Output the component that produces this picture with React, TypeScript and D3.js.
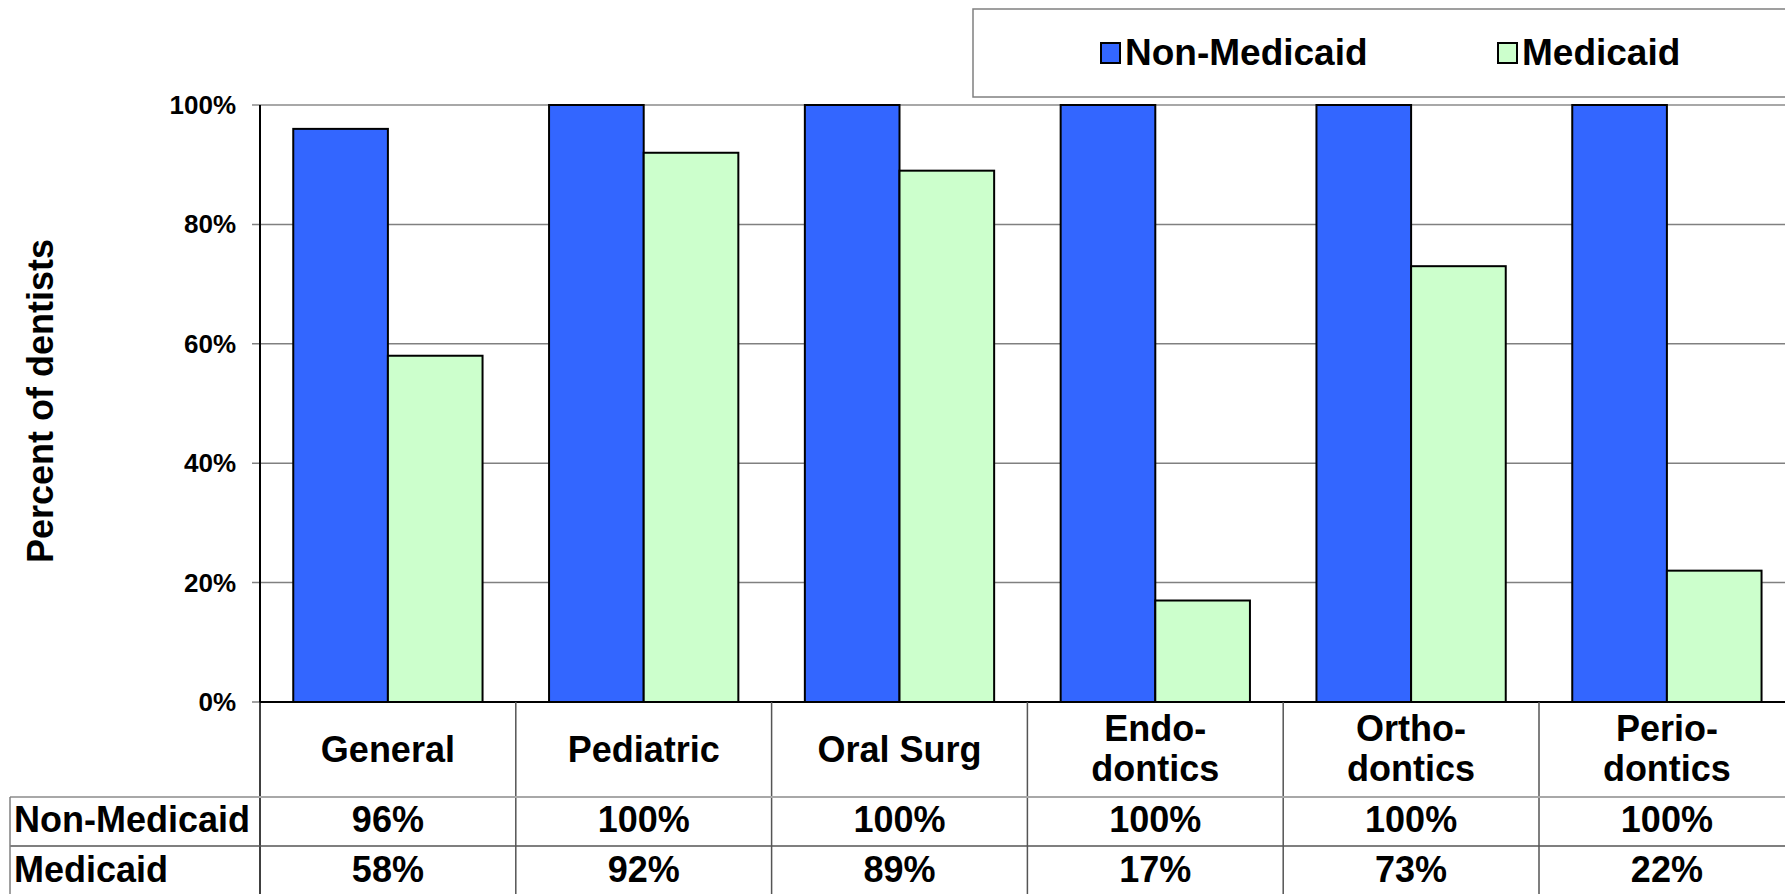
import React from "react";
import * as d3 from "d3";

const categories: string[][] = [["General"], ["Pediatric"], ["Oral Surg"], ["Endo-", "dontics"], ["Ortho-", "dontics"], ["Perio-", "dontics"]];
const nonMedicaid = [96, 100, 100, 100, 100, 100];
const medicaid = [58, 92, 89, 17, 73, 22];
const seriesNames = ["Non-Medicaid", "Medicaid"];
const seriesColors = ["#3366FF", "#CCFFCC"];
const yTicks = [0, 20, 40, 60, 80, 100];

const W = 1785;
const H = 894;
const FONT = "'Liberation Sans', Arial, sans-serif";

export default function App() {
  const left = 260;
  const step = 255.8;
  const right = left + step * categories.length;
  const top = 105;
  const bottom = 702;
  const keys = categories.map((_, i) => String(i));
  const x = d3.scaleBand<string>().domain(keys).range([left, right]).padding(0);
  const bw = x.bandwidth();
  const inner = d3.scaleBand<string>().domain(seriesNames).range([bw * 0.13, bw * 0.87]).padding(0);
  const y = d3.scaleLinear().domain([0, 100]).range([bottom, top]);
  const series = [nonMedicaid, medicaid];

  const row1 = 797;
  const row2 = 846;
  const tableLeft = 10;

  return (
    <svg width={W} height={H} style={{ position: "absolute", left: 0, top: 0, background: "#fff" }} fontFamily={FONT} fontWeight="bold">
      {/* legend */}
      <rect x={973} y={9} width={900} height={88} fill="#fff" stroke="#808080" strokeWidth={1.5} />
      {seriesNames.map((s, i) => {
        const lx = i === 0 ? 1101 : 1498;
        return (
          <g key={s}>
            <rect x={lx} y={43} width={19} height={20} fill={seriesColors[i]} stroke="#000" strokeWidth={2} />
            <text x={lx + 24} y={65} fontSize={37}>{s}</text>
          </g>
        );
      })}

      {/* gridlines */}
      {yTicks.map((t) => (
        <line key={t} x1={252} x2={right} y1={y(t)} y2={y(t)} stroke={t === 100 ? "#a8a8a8" : "#808080"} strokeWidth={t === 100 ? 2 : 1.5} />
      ))}
      {yTicks.map((t) => (
        <text key={"l" + t} x={236} y={y(t) + 9} fontSize={26} textAnchor="end">{t}%</text>
      ))}

      {/* bars */}
      {keys.map((k, ci) => (
        <g key={k}>
          {series.map((vals, si) => (
            <rect
              key={si}
              x={(x(k) as number) + (inner(seriesNames[si]) as number)}
              y={y(vals[ci])}
              width={inner.bandwidth()}
              height={y(0) - y(vals[ci])}
              fill={seriesColors[si]}
              stroke="#000"
              strokeWidth={2}
            />
          ))}
        </g>
      ))}

      {/* axes */}
      <line x1={left} x2={left} y1={top} y2={bottom} stroke="#000" strokeWidth={2} />
      <line x1={left} x2={right} y1={bottom} y2={bottom} stroke="#000" strokeWidth={2} />

      {/* y title */}
      <text transform={`translate(53,401) rotate(-90)`} fontSize={36} textAnchor="middle">Percent of dentists</text>

      {/* table lines */}
      {keys.map((k, i) => (
        <line key={"v" + k} x1={x(k) as number} x2={x(k) as number} y1={bottom} y2={H} stroke={i === 0 ? "#000" : "#555"} strokeWidth={1.5} />
      ))}
      <line x1={tableLeft} x2={right} y1={row1} y2={row1} stroke="#a8a8a8" strokeWidth={2} />
      <line x1={tableLeft} x2={right} y1={row2} y2={row2} stroke="#555" strokeWidth={1.5} />
      <line x1={tableLeft} x2={tableLeft} y1={row1} y2={H} stroke="#808080" strokeWidth={1.5} />

      {/* category labels */}
      {keys.map((k, i) => {
        const cx = (x(k) as number) + bw / 2;
        const lines = categories[i];
        return (
          <text key={"c" + k} x={cx} textAnchor="middle" fontSize={36}>
            {lines.length === 1 ? (
              <tspan x={cx} y={762}>{lines[0]}</tspan>
            ) : (
              lines.map((ln, j) => (
                <tspan key={j} x={cx} y={741 + j * 40}>{ln}</tspan>
              ))
            )}
          </text>
        );
      })}

      {/* table rows */}
      {seriesNames.map((s, si) => (
        <g key={"r" + s}>
          <text x={14} y={si === 0 ? 832 : 882} fontSize={36}>{s}</text>
          {keys.map((k, ci) => (
            <text key={k} x={(x(k) as number) + bw / 2} y={si === 0 ? 832 : 882} fontSize={36} textAnchor="middle">
              {series[si][ci]}%
            </text>
          ))}
        </g>
      ))}
    </svg>
  );
}
